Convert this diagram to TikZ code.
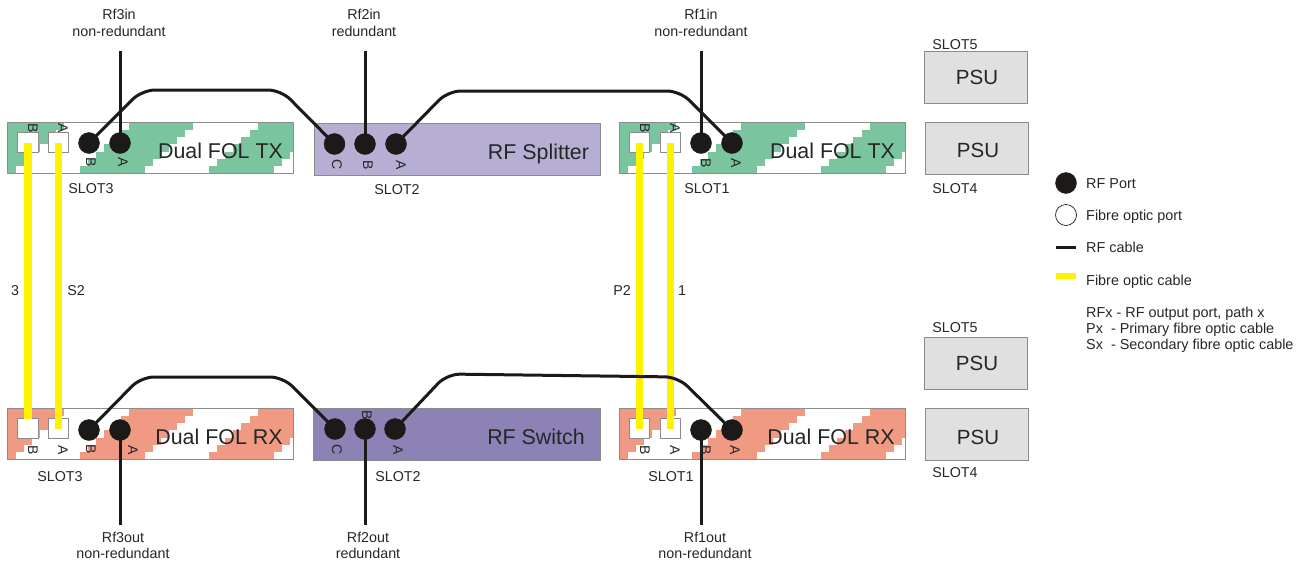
\documentclass[tikz,border=0pt]{standalone}
\usepackage{fontspec}
\setmainfont{Liberation Sans}
\definecolor{txgreen}{HTML}{7AC4A0}
\definecolor{rxred}{HTML}{F09A84}
\definecolor{splitfill}{HTML}{B7AFD3}
\definecolor{switchfill}{HTML}{8C82B6}
\definecolor{psufill}{HTML}{E0E0E0}
\definecolor{edgegray}{HTML}{8C8C8C}
\definecolor{inkblack}{HTML}{1C1A18}
\definecolor{txt}{HTML}{262626}
\tikzset{
  lbl/.style={inner sep=0pt,text=txt,font=\fontsize{14.3}{14.3}\selectfont,text height=10.2pt,text depth=0pt,anchor=center},
  leg/.style={lbl,anchor=west,font=\fontsize{14.4}{14.4}\selectfont},
  big/.style={lbl,font=\fontsize{21.4}{21.4}\selectfont,text height=15.4pt},
  psutxt/.style={lbl,font=\fontsize{20.5}{20.5}\selectfont,text height=14.7pt},
  plbl/.style={lbl,font=\fontsize{14}{14}\selectfont,text height=10pt,rotate=-90},
  modbox/.style={draw=edgegray,line width=1pt,anchor=north west,inner sep=0pt,outer sep=0pt,minimum width=286,minimum height=51},
  psubox/.style={modbox,fill=psufill,minimum width=103,minimum height=52},
  rfport/.style={circle,fill=inkblack,draw=inkblack,inner sep=0pt,minimum size=21},
  foport/.style={rectangle,fill=white,draw=edgegray,line width=1pt,inner sep=0pt,minimum size=20.5},
  hollow/.style={circle,fill=white,draw=inkblack,line width=.7pt,inner sep=0pt,minimum size=21},
  rfcable/.style={draw=inkblack,line width=3pt,rounded corners=13pt},
  focable/.style={draw=yellow,line width=7.5pt},
}
\newcommand{\stripes}[3]{% x, y, colour
  \begin{scope}[shift={(#1,#2)}]
    \clip (0,0) rectangle (286,51);
    \foreach \n in {-1,0,1}{
      \foreach \k in {0,...,6}{
        \fill[#3] ({72.5+129*\n+8.1*\k},{51-7.29*\k}) rectangle ({137+129*\n+8.1*\k},{51-7.29*(\k+1)});
      }
    }
  \end{scope}
}
\begin{document}
\begin{tikzpicture}[x=1pt,y=-1pt]
\useasboundingbox (0,0) rectangle (1306,566);
% module stripes
\stripes{7.5}{122.5}{txgreen}
\stripes{619.5}{122.5}{txgreen}
\stripes{7.5}{408.5}{rxred}
\stripes{619.5}{408.5}{rxred}
% module boxes
\node[modbox] (txl) at (7.5,122.5) {};
\node[modbox] (txr) at (619.5,122.5) {};
\node[modbox] (rxl) at (7.5,408.5) {};
\node[modbox] (rxr) at (619.5,408.5) {};
\node[modbox,fill=splitfill,minimum height=52] (split) at (314,123) {};
\node[modbox,fill=switchfill,minimum width=287,minimum height=52] (switch) at (313,408) {};
\node[psubox] (psua) at (924,51) {};
\node[psubox] (psub) at (925,122.5) {};
\node[psubox] (psuc) at (924,337) {};
\node[psubox] (psud) at (925,408) {};
% fibre ports
\node[foport] (ftlb) at (28,142.5) {};
\node[foport] (ftla) at (58.5,142.5) {};
\node[foport] (ftrb) at (639.5,142.5) {};
\node[foport] (ftra) at (670.5,142.5) {};
\node[foport] (frlb) at (28,428.5) {};
\node[foport] (frla) at (58.5,428.5) {};
\node[foport] (frrb) at (639.5,428.5) {};
\node[foport] (frra) at (670.5,428.5) {};
% RF ports
\node[rfport] (tlb) at (89,143) {};
\node[rfport] (tla) at (120,143) {};
\node[rfport] (trb) at (701,143) {};
\node[rfport] (tra) at (732,143) {};
\node[rfport] (sc) at (334.5,144) {};
\node[rfport] (sb) at (365,144) {};
\node[rfport] (sa) at (396,144) {};
\node[rfport] (rlb) at (89,430) {};
\node[rfport] (rla) at (120,430) {};
\node[rfport] (rrb) at (701,430) {};
\node[rfport] (rra) at (732,430) {};
\node[rfport] (wc) at (335,429) {};
\node[rfport] (wb) at (365,429) {};
\node[rfport] (wa) at (395,429) {};
% free ends of the cables
\coordinate (in3) at (120,51);
\coordinate (in2) at (365,51);
\coordinate (in1) at (701,51);
\coordinate (out3) at (120,525);
\coordinate (out2) at (365,525);
\coordinate (out1) at (701,525);
% fibre cables
\draw[focable] (ftlb.center) -- ([yshift=10pt]frlb.center);
\draw[focable] (ftla.center) -- (frla.center);
\draw[focable] (ftrb.center) -- (frrb.center);
\draw[focable] (ftra.center) -- (frra.center);
% RF cables
\draw[rfcable] (in3) -- (tla.center);
\draw[rfcable] (in2) -- (sb.center);
\draw[rfcable] (in1) -- (trb.center);
\draw[rfcable] (rla.center) -- (out3);
\draw[rfcable] (wb.center) -- (out2);
\draw[rfcable] (rrb.center) -- (out1);
\draw[rfcable] (tlb.center) -- (142,90) -- (281,90) -- (sc.center);
\draw[rfcable] (sa.center) -- (448,91) -- (680,91) -- (tra.center);
\draw[rfcable] (rlb.center) -- (141,377) -- (283,377) -- (wc.center);
\draw[rfcable] (wa.center) -- (447,374) -- (678,377) -- (rra.center);
% main labels
\node[big] (ltxl) at (220.5,151) {Dual FOL TX};
\node[big] (ltxr) at (832.5,151) {Dual FOL TX};
\node[big] (lrxl) at (219,437) {Dual FOL RX};
\node[big] (lrxr) at (831,437) {Dual FOL RX};
\node[big] (lsp) at (538.5,152) {RF Splitter};
\node[big] (lsw) at (536,437) {RF Switch};
\node[psutxt] (lpa) at (977,77) {PSU};
\node[psutxt] (lpb) at (978,150) {PSU};
\node[psutxt] (lpc) at (977,363) {PSU};
\node[psutxt] (lpd) at (978,437) {PSU};
% slot labels
\node[lbl] (s1) at (91,188) {SLOT3};
\node[lbl] (s2) at (397,189) {SLOT2};
\node[lbl] (s3) at (707,188) {SLOT1};
\node[lbl] (s4) at (60,476) {SLOT3};
\node[lbl] (s5) at (398,476) {SLOT2};
\node[lbl] (s6) at (671,476) {SLOT1};
\node[lbl] (s7) at (955,44) {SLOT5};
\node[lbl] (s8) at (955,188) {SLOT4};
\node[lbl] (s9) at (955,327) {SLOT5};
\node[lbl] (s10) at (955,472) {SLOT4};
% cable numbers
\node[lbl] (c1) at (15,290) {3};
\node[lbl] (c2) at (76,290) {S2};
\node[lbl] (c3) at (622,290) {P2};
\node[lbl] (c4) at (682,290) {1};
% in / out labels
\node[lbl] (a1) at (119,14) {Rf3in};
\node[lbl] (a2) at (119,31) {non-redundant};
\node[lbl] (a3) at (364,14) {Rf2in};
\node[lbl] (a4) at (364,31) {redundant};
\node[lbl] (a5) at (701,14) {Rf1in};
\node[lbl] (a6) at (701,31) {non-redundant};
\node[lbl] (b1) at (123,537) {Rf3out};
\node[lbl] (b2) at (123,553) {non-redundant};
\node[lbl] (b3) at (368,537) {Rf2out};
\node[lbl] (b4) at (368,553) {redundant};
\node[lbl] (b5) at (705,537) {Rf1out};
\node[lbl] (b6) at (705,553) {non-redundant};
% port letters
\node[plbl] at (33,128) {B};
\node[plbl] at (63,128) {A};
\node[plbl] at (91,162) {B};
\node[plbl] at (123,162) {A};
\node[plbl] at (645,128) {B};
\node[plbl] at (675,128) {A};
\node[plbl] at (706,163) {B};
\node[plbl] at (736,163) {A};
\node[plbl] at (337,165) {C};
\node[plbl] at (368,165) {B};
\node[plbl] at (401,165) {A};
\node[plbl] at (33,450) {B};
\node[plbl] at (63,450) {A};
\node[plbl] at (91,449) {B};
\node[plbl] at (133,450) {A};
\node[plbl] at (645,450) {B};
\node[plbl] at (675,450) {A};
\node[plbl] at (706,450) {B};
\node[plbl] at (735,450) {A};
\node[plbl] at (337,450) {C};
\node[plbl] at (367,415) {B};
\node[plbl] at (398,450) {A};
% legend
\node[rfport] (k1) at (1066,183) {};
\node[hollow] (k2) at (1066,215) {};
\coordinate (k3a) at (1056,247);
\coordinate (k3b) at (1076,247);
\coordinate (k4a) at (1056,276);
\coordinate (k4b) at (1076,276);
\draw[draw=inkblack,line width=3pt] (k3a) -- (k3b);
\draw[draw=yellow,line width=6pt] (k4a) -- (k4b);
\node[leg] (t1) at (1086,183) {RF Port};
\node[leg] (t2) at (1086,215.5) {Fibre optic port};
\node[leg] (t3) at (1086,247.5) {RF cable};
\node[leg] (t4) at (1086,280) {Fibre optic cable};
\node[leg] (t5) at (1086,312) {RFx - RF output port, path x};
\node[leg] (t6) at (1086,328.5) {Px\ \ - Primary fibre optic cable};
\node[leg] (t7) at (1086,344.5) {Sx\ \ - Secondary fibre optic cable};
\end{tikzpicture}
\end{document}
